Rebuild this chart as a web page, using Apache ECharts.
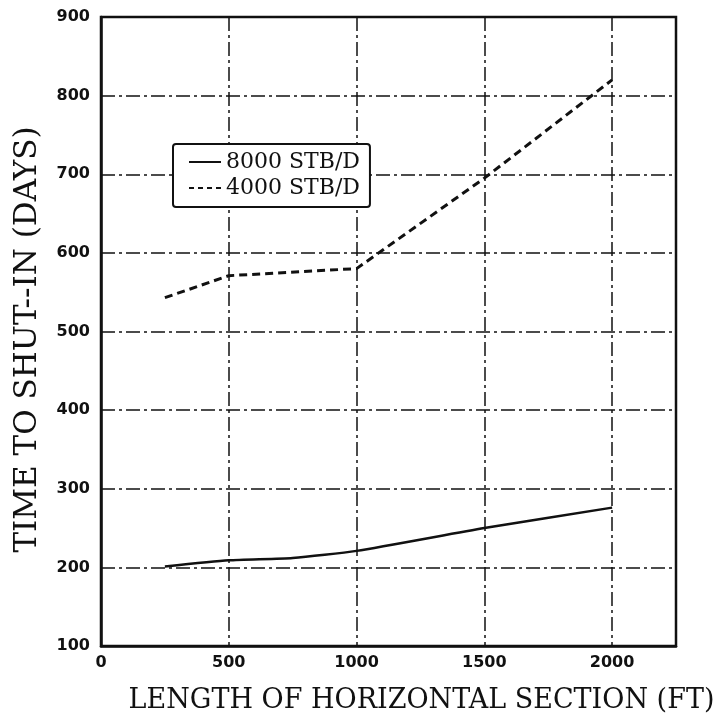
<!DOCTYPE html>
<html>
<head>
<meta charset="utf-8">
<script src="https://cdn.jsdelivr.net/npm/echarts@6/dist/echarts.min.js"></script>
<style>
  html, body { margin: 0; padding: 0; background: #fff; }
  #chart { width: 722px; height: 726px; }
</style>
</head>
<body>
<div id="chart"></div>
<script>
// Horizontal section length (ft) and time to shut-in (days) for two rates
const lengths8000 = [250, 500, 750, 1000, 1500, 2000];
const days8000    = [201, 209, 212, 221, 250, 276];
const lengths4000 = [250, 500, 1000, 1500, 2000];
const days4000    = [543, 571, 580, 695, 820];

const seriesNames = ['8000 STB/D', '4000 STB/D'];
const xTicks = [0, 500, 1000, 1500, 2000];
const yTicks = [100, 200, 300, 400, 500, 600, 700, 800, 900];

const pairs = (xs, ys) => xs.map((x, i) => [x, ys[i]]);

// Legend keys: a plain stroke and a dashed stroke
const solidKey  = 'path://M0,0H32V2H0Z';
const dashedKey = 'path://M0,0H5V2H0Z M9,0H14V2H9Z M18,0H23V2H18Z M27,0H32V2H27Z';

const chart = echarts.init(document.getElementById('chart'), null, { renderer: 'canvas' });

const gridLine = { color: '#111', width: 1.5, type: [14, 4, 3, 4] };
const tickFont = { fontFamily: 'DejaVu Sans', fontWeight: 'bold', fontSize: 16, color: '#111' };

chart.setOption({
  backgroundColor: '#fff',
  animation: false,
  grid: {
    left: 101, top: 17, right: 46, bottom: 80,
    show: true, borderColor: '#111', borderWidth: 2.5, backgroundColor: 'transparent'
  },
  xAxis: {
    type: 'value',
    min: 0, max: 2250, interval: 500,
    axisLine: { show: true, onZero: false, lineStyle: { color: '#111', width: 2.5 } },
    axisTick: { show: false },
    axisLabel: Object.assign({
      margin: 9,
      showMaxLabel: false,
      formatter: v => (xTicks.indexOf(v) >= 0 ? String(v) : '')
    }, tickFont),
    splitLine: { show: true, lineStyle: gridLine },
    name: 'LENGTH OF HORIZONTAL SECTION (FT)',
    nameLocation: 'middle',
    nameGap: 41,
    nameTextStyle: { fontFamily: 'DejaVu Serif', fontSize: 27, color: '#111', padding: [0, 0, 0, 66] }
  },
  yAxis: {
    type: 'value',
    min: 100, max: 900, interval: 100,
    axisLine: { show: true, lineStyle: { color: '#111', width: 2.5 } },
    axisTick: { show: false },
    axisLabel: Object.assign({
      margin: 11,
      formatter: v => (yTicks.indexOf(v) >= 0 ? String(v) : '')
    }, tickFont),
    splitLine: { show: true, lineStyle: gridLine },
    name: 'TIME TO SHUT--IN (DAYS)',
    nameLocation: 'middle',
    nameGap: 58,
    nameTextStyle: { fontFamily: 'DejaVu Serif', fontSize: 31, color: '#111', padding: [0, 16, 0, 0] }
  },
  legend: {
    data: [
      { name: seriesNames[0], icon: solidKey },
      { name: seriesNames[1], icon: dashedKey }
    ],
    orient: 'vertical',
    left: 173, top: 144,
    itemGap: 4,
    itemWidth: 32, itemHeight: 3,
    padding: [7, 10, 8, 16],
    backgroundColor: '#fff',
    borderColor: '#111', borderWidth: 2, borderRadius: 3,
    textStyle: { fontFamily: 'DejaVu Serif', fontSize: 22, color: '#111' }
  },
  series: [
    {
      name: seriesNames[0],
      type: 'line',
      data: pairs(lengths8000, days8000),
      smooth: 0.2,
      symbol: 'none',
      lineStyle: { color: '#111', width: 2.5, type: 'solid' },
      itemStyle: { color: '#111' },
      z: 5
    },
    {
      name: seriesNames[1],
      type: 'line',
      data: pairs(lengths4000, days4000),
      symbol: 'none',
      lineStyle: { color: '#111', width: 3, type: [8, 5] },
      itemStyle: { color: '#111' },
      z: 5
    }
  ]
});
</script>
</body>
</html>
